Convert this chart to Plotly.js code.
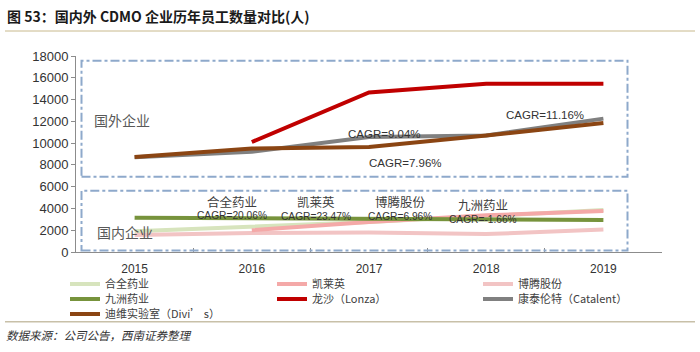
<!DOCTYPE html>
<html><head><meta charset="utf-8">
<script src="https://cdn.plot.ly/plotly-3.0.1.min.js"></script>
<style>body{margin:0;background:#fff}#c{width:700px;height:352px}</style>
</head><body><div id="c"></div>
<script>
const years = ['2015','2016','2017','2018','2019'];
const hequan = [1900, 2300, 2750, 3300, 3850];
const kailaiying = [null, 2000, 2750, 3370, 3770];
const boteng = [1570, 1750, 1800, 1650, 2055];
const jiuzhou = [3150, 3120, 3050, 2980, 2950];
const lonza = [null, 10100, 14650, 15450, 15450];
const catalent = [8700, 9200, 10550, 10700, 12250];
const divis = [8720, 9500, 9650, 10700, 11850];
const seriesNames = ['合全药业','凯莱英','博腾股份','九洲药业','龙沙（Lonza）','康泰伦特（Catalent）','迪维实验室（Divi’ s）'];
const domesticLabels = ['合全药业','凯莱英','博腾股份','九洲药业'];
const domesticCagr = ['CAGR=20.06%','CAGR=23.47%','CAGR=6.96%','CAGR=-1.66%'];
const foreignCagr = ['CAGR=9.04%','CAGR=7.96%','CAGR=11.16%'];

const L=76, T=56, W=586, H=196;
const px = X => (X-L)/W;
const py = Y => (T+H-Y)/H;

function tr(y, name, color, leg, width){
  return {x: years, y: y, name: name, type:'scatter', mode:'lines',
    line:{color: color, width: width||4}, legend: leg, connectgaps:false};
}
const data = [
  tr(hequan, seriesNames[0], '#D7E4BD', 'legend'),
  tr(boteng, seriesNames[2], '#F2C4C4', 'legend3'),
  tr(kailaiying, seriesNames[1], '#F4A9A8', 'legend2'),
  tr(jiuzhou, seriesNames[3], '#77933C', 'legend4'),
  tr(lonza, seriesNames[4], '#C00000', 'legend5'),
  tr(catalent, seriesNames[5], '#808080', 'legend6'),
  tr(divis, seriesNames[6], '#8B4513', 'legend7'),
];

const boxColor = '#8EA9CB';
const shapes = [
  {type:'rect', xref:'paper', yref:'paper', x0:px(81.5), x1:px(627.5), y0:py(176.7), y1:py(60.7),
   line:{color:boxColor, width:2, dash:'dashdot'}},
  {type:'rect', xref:'paper', yref:'paper', x0:px(81.5), x1:px(627.5), y0:py(250.5), y1:py(190.7),
   line:{color:boxColor, width:2, dash:'dashdot'}},
  {type:'line', xref:'paper', yref:'paper', x0:px(5), x1:px(695), y0:py(31), y1:py(31),
   line:{color:'#C8B98C', width:1}},
  {type:'line', xref:'paper', yref:'paper', x0:px(5), x1:px(695), y0:py(321.7), y1:py(321.7),
   line:{color:'#C8C0A8', width:1.5}},
];

const cagrFont = {family:'Liberation Sans, Arial', size:11.5, color:'#333333'};
const cagrFontS = {family:'Liberation Sans, Arial', size:10.2, color:'#333333'};
const cnFont = {family:'Noto Sans CJK SC', size:12.5, color:'#404040'};
const ann = [];
const domX = [232, 316, 400, 483];
const domNameY = [201, 201, 201, 204];
const domCagrY = [215, 216, 216, 219];
for (let i=0;i<4;i++){
  ann.push({xref:'paper', yref:'paper', x:px(domX[i]), y:py(domNameY[i]), text:domesticLabels[i],
    showarrow:false, font:cnFont, xanchor:'center', yanchor:'middle'});
  ann.push({xref:'paper', yref:'paper', x:px(domX[i]), y:py(domCagrY[i]), text:domesticCagr[i],
    showarrow:false, font:cagrFontS, xanchor:'center', yanchor:'middle'});
}
const fX = [384, 405, 545], fY = [134, 163, 115];
for (let i=0;i<3;i++){
  ann.push({xref:'paper', yref:'paper', x:px(fX[i]), y:py(fY[i]), text:foreignCagr[i],
    showarrow:false, font:cagrFont, xanchor:'center', yanchor:'middle'});
}
ann.push({xref:'paper', yref:'paper', x:px(92), y:py(120), text:'国外企业', showarrow:false,
  font:{family:'Noto Sans CJK SC', size:14, color:'#595959'}, xanchor:'left', yanchor:'middle'});
ann.push({xref:'paper', yref:'paper', x:px(95), y:py(232), text:'国内企业', showarrow:false,
  font:{family:'Noto Sans CJK SC', size:14, color:'#595959'}, xanchor:'left', yanchor:'middle'});
ann.push({xref:'paper', yref:'paper', x:px(4), y:py(335), text:'<i>数据来源：公司公告，西南证券整理</i>', showarrow:false,
  font:{family:'Noto Sans CJK SC', size:11.5, color:'#333333'}, xanchor:'left', yanchor:'middle'});

const legFont = {family:'Noto Sans CJK SC', size:11, color:'#404040'};
function leg(X, Y){
  return {x:px(X), xanchor:'left', y:py(Y), yanchor:'middle', itemwidth:30,
    font:legFont, bgcolor:'rgba(0,0,0,0)', borderwidth:0, orientation:'v'};
}
const col = [70, 277, 483], row = [284, 299, 314];

const layout = {
  width:700, height:352,
  margin:{l:L, r:700-L-W, t:T, b:352-T-H, autoexpand:false},
  paper_bgcolor:'#fff', plot_bgcolor:'#fff',
  title:{text:'<b>图 53：国内外 CDMO 企业历年员工数量对比(人)</b>', xref:'container', yref:'container',
    x:0.01, xanchor:'left', y:1-17/352, yanchor:'middle',
    font:{family:'Noto Sans CJK SC', size:14, color:'#1a1a1a'}},
  xaxis:{type:'category', range:[-0.5, 4.5], showgrid:false, showline:true, linecolor:'#8C8C8C', linewidth:1,
    ticks:'inside', tickson:'boundaries', ticklen:4, tickcolor:'#8C8C8C', ticklabelstandoff:6,
    tickfont:{family:'Liberation Sans, Arial', size:12, color:'#333'}, zeroline:false},
  yaxis:{range:[0,18000], dtick:2000, tickformat:'d', showgrid:false, showline:true, linecolor:'#8C8C8C', linewidth:1,
    ticks:'outside', ticklen:4, tickcolor:'#8C8C8C', zeroline:false,
    tickfont:{family:'Liberation Sans, Arial', size:13, color:'#333'}},
  legend: leg(col[0]-5, row[0]),
  legend2: leg(col[1]-5, row[0]),
  legend3: leg(col[2]-5, row[0]),
  legend4: leg(col[0]-5, row[1]),
  legend5: leg(col[1]-5, row[1]),
  legend6: leg(col[2]-5, row[1]),
  legend7: leg(col[0]-5, row[2]),
  shapes:shapes, annotations:ann, showlegend:true
};
Plotly.newPlot('c', data, layout, {staticPlot:true, displayModeBar:false});
</script></body></html>
